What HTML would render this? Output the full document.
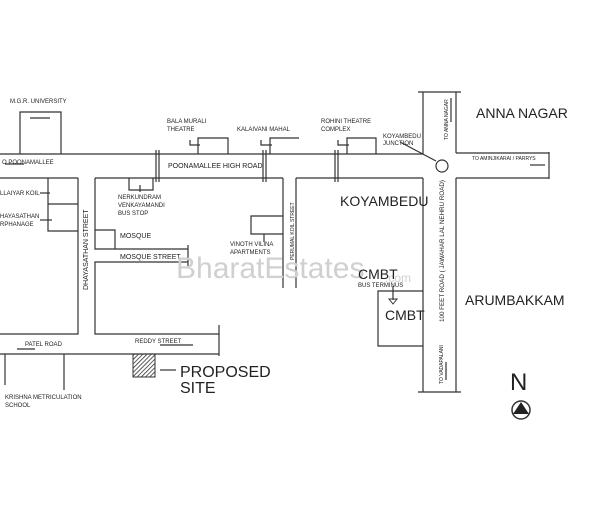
<!DOCTYPE html>
<html><head><meta charset="utf-8"><style>
body{margin:0;background:#fff;}
svg{display:block;font-family:"Liberation Sans",sans-serif;}
.s{font-size:6px;fill:#222;}
</style></head><body>
<svg width="604" height="520" viewBox="0 0 604 520">
<defs><pattern id="h" width="3" height="3" patternUnits="userSpaceOnUse" patternTransform="rotate(45)"><line x1="0" y1="0" x2="0" y2="3" stroke="#333" stroke-width="1.6"/></pattern></defs>
<g stroke="#333" stroke-width="1.2" fill="none">
<line x1="0" y1="154" x2="423" y2="154"/>
<line x1="0" y1="178" x2="78" y2="178"/>
<line x1="95" y1="178" x2="283" y2="178"/>
<line x1="296" y1="178" x2="423" y2="178"/>
<line x1="423" y1="92" x2="423" y2="154"/>
<line x1="423" y1="178" x2="423" y2="392"/>
<line x1="456" y1="92" x2="456" y2="153"/>
<line x1="456" y1="178" x2="456" y2="392"/>
<line x1="418" y1="92" x2="461" y2="92"/>
<line x1="418" y1="392" x2="461" y2="392"/>
<line x1="456" y1="153" x2="549" y2="153"/>
<line x1="456" y1="178" x2="549" y2="178"/>
<line x1="549" y1="152" x2="549" y2="179"/>
<circle cx="442" cy="166" r="6"/>
<line x1="400" y1="142" x2="436" y2="161"/>
<polyline points="20,154 20,112 61,112 61,154"/>
<line x1="30" y1="118" x2="50" y2="118"/>
<polyline points="198,154 198,138 228,138 228,154"/>
<polyline points="270,154 270,138 299,138"/>
<polyline points="347,154 347,138 376,138 376,154"/>
<polyline points="190,140 190,145 200,145"/>
<polyline points="261,140 261,145 272,145"/>
<polyline points="338,140 338,145 349,145"/>
<line x1="156" y1="150" x2="156" y2="182"/><line x1="159" y1="150" x2="159" y2="182"/>
<line x1="263" y1="150" x2="263" y2="182"/><line x1="266" y1="150" x2="266" y2="182"/>
<line x1="335" y1="150" x2="335" y2="182"/><line x1="338" y1="150" x2="338" y2="182"/>
<polyline points="78,178 78,334 0,334"/>
<polyline points="48,178 48,231 78,231"/>
<line x1="48" y1="204" x2="78" y2="204"/>
<line x1="40" y1="193" x2="50" y2="193"/>
<line x1="40" y1="220" x2="52" y2="220"/>
<polyline points="95,178 95,249 188,249"/>
<polyline points="95,230 115,230 115,249"/>
<polyline points="129,178 129,190 153,190 153,178"/>
<line x1="140" y1="185" x2="140" y2="192"/>
<polyline points="188,262 95,262 95,334 219,334 219,325"/>
<line x1="188" y1="245" x2="188" y2="266"/>
<line x1="0" y1="354" x2="219" y2="354"/>
<line x1="219" y1="334" x2="219" y2="356"/>
<line x1="283" y1="178" x2="283" y2="288"/>
<line x1="296" y1="178" x2="296" y2="288"/>
<polyline points="283,216 251,216 251,234 283,234"/>
<line x1="264" y1="234" x2="264" y2="242"/>
<polyline points="423,291 378,291 378,346 423,346"/>
<line x1="393" y1="286" x2="393" y2="300"/>
<polyline points="5,385 5,354"/>
<line x1="64" y1="354" x2="64" y2="390"/>
<line x1="160" y1="370" x2="176" y2="370"/>
<line x1="5" y1="164" x2="24" y2="164"/>
<line x1="17" y1="349" x2="35" y2="349"/>
<line x1="160" y1="345" x2="193" y2="345"/>
<line x1="451" y1="98" x2="451" y2="122"/>
<line x1="446" y1="362" x2="446" y2="380"/>
<line x1="530" y1="165" x2="545" y2="165"/>
</g>
<rect x="133" y="354" width="22" height="23" fill="url(#h)" stroke="#333"/>
<polygon points="389,299 397,299 393,304" fill="none" stroke="#333"/>
<circle cx="521" cy="410" r="9" fill="none" stroke="#333" stroke-width="1.5"/>
<polygon points="521,402 513,414 529,414" fill="#222"/>
<g class="s">
<text x="10" y="103">M.G.R. UNIVERSITY</text>
<text x="167" y="123">BALA MURALI</text><text x="167" y="131">THEATRE</text>
<text x="237" y="131">KALAIVANI MAHAL</text>
<text x="321" y="123">ROHINI THEATRE</text><text x="321" y="131">COMPLEX</text>
<text x="383" y="138">KOYAMBEDU</text><text x="383" y="145">JUNCTION</text>
<text x="2" y="164">O POONAMALLEE</text>
<text x="168" y="168" font-size="7">POONAMALLEE HIGH ROAD</text>
<text x="0" y="195">LLAIYAR KOIL</text>
<text x="0" y="218">HAYASATHAN</text><text x="0" y="226">RPHANAGE</text>
<text x="118" y="199">NERKUNDRAM</text><text x="118" y="207">VENKAYAMANDI</text><text x="118" y="215">BUS STOP</text>
<text x="120" y="238" font-size="7">MOSQUE</text>
<text x="120" y="259" font-size="7">MOSQUE  STREET</text>
<text x="230" y="246">VINOTH VILINA</text><text x="230" y="254">APARTMENTS</text>
<text x="25" y="346">PATEL ROAD</text>
<text x="135" y="343">REDDY  STREET</text>
<text x="5" y="399">KRISHNA METRICULATION</text><text x="5" y="407">SCHOOL</text>
<text x="472" y="160" font-size="5">TO AMINJIKARAI / PARRYS</text>
<text x="358" y="287">BUS TERMINUS</text>
<text transform="translate(88,290) rotate(-90)" font-size="7">DHAYASATHAN  STREET</text>
<text transform="translate(294,260) rotate(-90)" font-size="5">PERUMAL KOIL STREET</text>
<text transform="translate(444,322) rotate(-90)" font-size="6" textLength="142" lengthAdjust="spacingAndGlyphs">100 FEET ROAD  ( JAWAHAR LAL NEHRU ROAD)</text>
<text transform="translate(448,140) rotate(-90)" font-size="5">TO ANNA NAGAR</text>
<text transform="translate(443,384) rotate(-90)" font-size="5">TO VADAPALANI</text>
</g>
<text x="176" y="278" font-size="30" fill="#d0d0d0">BharatEstates</text>
<text x="385" y="282" font-size="12" fill="#d0d0d0">.com</text>
<g fill="#222">
<text x="180" y="377" font-size="16">PROPOSED</text>
<text x="180" y="393" font-size="16">SITE</text>
<text x="340" y="206" font-size="14">KOYAMBEDU</text>
<text x="358" y="279" font-size="14">CMBT</text>
<text x="385" y="320" font-size="14">CMBT</text>
<text x="476" y="118" font-size="14">ANNA NAGAR</text>
<text x="465" y="305" font-size="14">ARUMBAKKAM</text>
<text x="510" y="390" font-size="24">N</text>
</g>
</svg>
</body></html>
